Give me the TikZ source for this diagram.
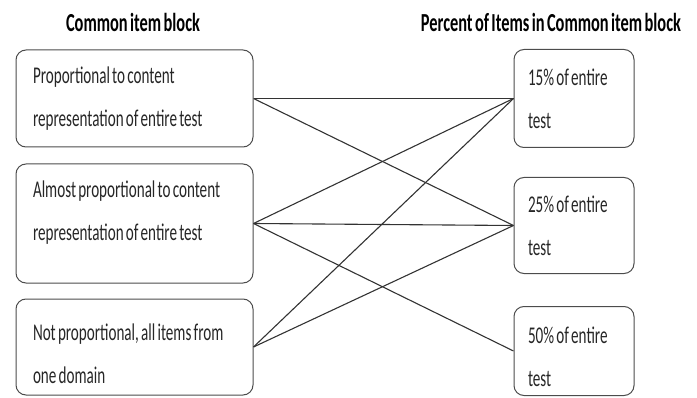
\documentclass[tikz,border=0pt]{standalone}
\usepackage{fontspec}
\setmainfont{Carlito}[FakeStretch=0.63, WordSpace=0.65]
\usetikzlibrary{positioning}
\tikzstyle{block} = [rectangle, rounded corners=10pt, draw=black!70, line width=1pt, text=black!85, align=left, inner xsep=17pt, inner ysep=4pt, font=\fontsize{24}{43}\selectfont, execute at begin node=\spaceskip0pt\xspaceskip0pt\relax]
\tikzstyle{left block} = [block, text width=203pt, minimum height=97pt]
\tikzstyle{right block} = [block, inner xsep=14pt, text width=92pt, minimum height=96pt]
\tikzstyle{link} = [draw=black!80, line width=1.1pt]
\tikzstyle{heading} = [font=\bfseries\fontsize{26}{30}\selectfont, text=black]

\begin{document}
\begin{tikzpicture}[x=1pt,y=1pt]
\useasboundingbox (0,0) rectangle (697,397);
% left column
\node[left block] (A) at (134.5,298.5) {Proportional to content\\representation of entire test};
\node[left block, minimum height=119pt, text depth=69pt, below=16pt of A] (B) {Almost proportional to content\\representation of entire test};
\node[left block, minimum height=96pt, text height=30pt, below=15pt of B] (C) {Not proportional, all items from\\one domain};
% right column
\node[right block, minimum height=98pt, right=260pt of A] (P15) {15\% of entire\\test};
\node[right block, below=29pt of P15] (P25) {25\% of entire\\test};
\node[right block, minimum height=89pt, text height=28pt, below=32pt of P25] (P50) {50\% of entire\\test};
% headings
\node[heading] (lefthead) at (133,375) {Common item block};
\node[heading] (righthead) at (551,375) {Percent of Items in Common item block};
% links
\draw[link] (A.east) -- (P15.west);
\draw[link] (A.east) -- (P25.west);
\draw[link] (B.east) -- (P15.west);
\draw[link] (B.east) -- (P25.west);
\draw[link] (B.east) -- (P50.west);
\draw[link] (C.east) -- (P15.west);
\draw[link] (C.east) -- (P25.west);
\end{tikzpicture}
\end{document}
